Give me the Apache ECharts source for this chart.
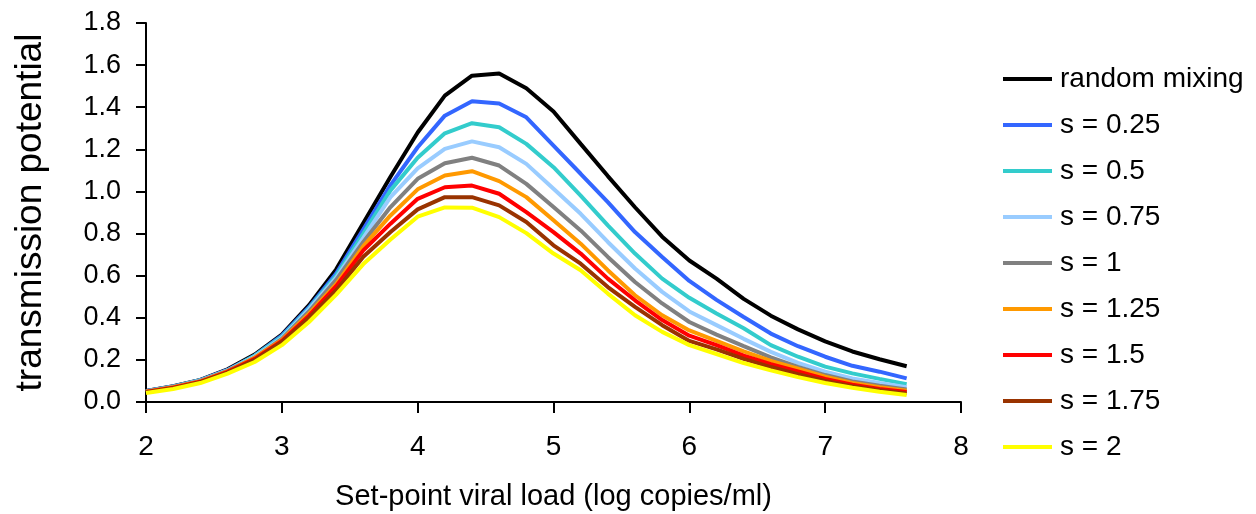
<!DOCTYPE html>
<html>
<head>
<meta charset="utf-8">
<script src="https://cdn.jsdelivr.net/npm/echarts@6/dist/echarts.min.js"></script>
<style>
  html, body { margin: 0; padding: 0; background: #fff; }
  #chart { width: 1256px; height: 514px; }
</style>
</head>
<body>
<div id="chart"></div>
<script>
// set-point viral load, 2.0 .. 7.6 in 0.2 steps
const viralLoad = [2.0, 2.2, 2.4, 2.6, 2.8, 3.0, 3.2, 3.4, 3.6, 3.8, 4.0, 4.2, 4.4, 4.6, 4.8,
    5.0, 5.2, 5.4, 5.6, 5.8, 6.0, 6.2, 6.4, 6.6, 6.8, 7.0, 7.2, 7.4, 7.6];

const randomMixing = [0.052, 0.075, 0.105, 0.155, 0.225, 0.32, 0.46, 0.63, 0.85, 1.07, 1.28, 1.455, 1.55, 1.56, 1.49,
    1.38, 1.226, 1.073, 0.925, 0.785, 0.672, 0.586, 0.49, 0.41, 0.345, 0.288, 0.24, 0.203, 0.17];
const s025 = [0.052, 0.074, 0.104, 0.152, 0.22, 0.315, 0.45, 0.61, 0.82, 1.03, 1.21, 1.36, 1.428, 1.418, 1.352,
    1.218, 1.084, 0.949, 0.807, 0.689, 0.575, 0.485, 0.404, 0.325, 0.265, 0.215, 0.172, 0.144, 0.112];
const s05 = [0.051, 0.073, 0.103, 0.15, 0.22, 0.31, 0.445, 0.60, 0.80, 1.005, 1.16, 1.276, 1.324, 1.305, 1.226,
    1.115, 0.98, 0.839, 0.705, 0.586, 0.495, 0.42, 0.35, 0.27, 0.215, 0.168, 0.136, 0.11, 0.085];
const s075 = [0.05, 0.072, 0.102, 0.15, 0.215, 0.305, 0.44, 0.59, 0.78, 0.973, 1.11, 1.202, 1.238, 1.21, 1.131,
    1.013, 0.894, 0.76, 0.634, 0.523, 0.43, 0.365, 0.30, 0.238, 0.186, 0.144, 0.112, 0.09, 0.07];
const s1 = [0.05, 0.071, 0.10, 0.148, 0.21, 0.30, 0.43, 0.58, 0.76, 0.926, 1.06, 1.134, 1.16, 1.123, 1.036,
    0.926, 0.815, 0.689, 0.57, 0.468, 0.38, 0.32, 0.265, 0.212, 0.167, 0.128, 0.098, 0.077, 0.06];
const s125 = [0.049, 0.07, 0.098, 0.145, 0.21, 0.295, 0.42, 0.56, 0.74, 0.886, 1.01, 1.076, 1.096, 1.049, 0.973,
    0.863, 0.752, 0.626, 0.507, 0.412, 0.34, 0.29, 0.24, 0.195, 0.158, 0.12, 0.09, 0.07, 0.054];
const s15 = [0.048, 0.068, 0.096, 0.143, 0.205, 0.29, 0.41, 0.55, 0.72, 0.847, 0.965, 1.02, 1.028, 0.989, 0.902,
    0.807, 0.705, 0.586, 0.483, 0.389, 0.315, 0.27, 0.22, 0.18, 0.145, 0.11, 0.082, 0.062, 0.047];
const s175 = [0.046, 0.066, 0.094, 0.14, 0.20, 0.285, 0.40, 0.53, 0.69, 0.807, 0.915, 0.973, 0.973, 0.934, 0.855,
    0.744, 0.657, 0.546, 0.452, 0.365, 0.29, 0.25, 0.205, 0.166, 0.132, 0.1, 0.075, 0.056, 0.041];
const s2 = [0.043, 0.062, 0.09, 0.135, 0.19, 0.27, 0.38, 0.51, 0.655, 0.772, 0.88, 0.924, 0.923, 0.878, 0.802,
    0.705, 0.626, 0.515, 0.412, 0.333, 0.27, 0.228, 0.185, 0.15, 0.118, 0.09, 0.068, 0.049, 0.033];

const seriesNames = ['random mixing', 's = 0.25', 's = 0.5', 's = 0.75', 's = 1', 's = 1.25', 's = 1.5', 's = 1.75', 's = 2'];
const seriesValues = [randomMixing, s025, s05, s075, s1, s125, s15, s175, s2];
const colors = ['#000000', '#3366ff', '#33cccc', '#99ccff', '#808080', '#ff9900', '#ff0000', '#993300', '#ffff00'];

const font = '"Liberation Sans", Arial, sans-serif';

const chart = echarts.init(document.getElementById('chart'));

const series = seriesNames.map((name, i) => ({
    name: name,
    type: 'line',
    symbol: 'none',
    data: viralLoad.map((x, j) => [x, seriesValues[i][j]]),
    lineStyle: {width: 4, color: colors[i]},
    itemStyle: {color: colors[i]},
    emphasis: {disabled: true}
}));

const option = {
    animation: false,
    backgroundColor: '#fff',
    grid: {left: 146, right: 295, top: 23, bottom: 112, outerBoundsMode: 'none'},
    legend: {
        orient: 'vertical',
        left: 998,
        top: 60,
        icon: 'rect',
        itemWidth: 49,
        itemHeight: 4,
        itemGap: 18,
        data: seriesNames,
        textStyle: {fontFamily: font, fontSize: 28, lineHeight: 28, color: '#000', padding: [0, 0, 0, 3]}
    },
    xAxis: {
        type: 'value',
        min: 2,
        max: 8,
        interval: 1,
        name: 'Set-point viral load (log copies/ml)',
        nameLocation: 'middle',
        nameGap: 80,
        nameTextStyle: {fontFamily: font, fontSize: 29, color: '#000'},
        axisLine: {show: true, onZero: false, lineStyle: {color: '#000', width: 2}},
        axisTick: {show: true, length: 11, lineStyle: {color: '#000', width: 2}},
        axisLabel: {fontFamily: font, fontSize: 28, color: '#000', margin: 31},
        splitLine: {show: false}
    },
    yAxis: {
        type: 'value',
        min: 0,
        max: 1.8,
        interval: 0.2,
        name: 'transmission potential',
        nameLocation: 'middle',
        nameGap: 97,
        nameTextStyle: {fontFamily: font, fontSize: 37, color: '#000'},
        axisLine: {show: true, lineStyle: {color: '#000', width: 2}},
        axisTick: {show: true, length: 10, lineStyle: {color: '#000', width: 2}},
        axisLabel: {
            fontFamily: font, fontSize: 27, color: '#000', margin: 25,
            formatter: v => v.toFixed(1)
        },
        splitLine: {show: false}
    },
    series: series
};

chart.setOption(option);
</script>
</body>
</html>
